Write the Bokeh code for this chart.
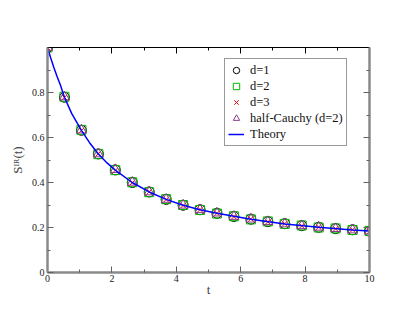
from bokeh.plotting import figure
from bokeh.models import LinearAxis, FixedTicker, Range1d, Legend, LegendItem
from bokeh.embed import file_html
from bokeh.resources import INLINE

# ---- data ----
t = [0.0, 0.526, 1.053, 1.579, 2.105, 2.632, 3.158, 3.684, 4.211, 4.737,
     5.263, 5.789, 6.316, 6.842, 7.368, 7.895, 8.421, 8.947, 9.474, 10.0]
d1 = [1.000, 0.779, 0.632, 0.527, 0.456, 0.400, 0.358, 0.325, 0.299, 0.279,
      0.263, 0.249, 0.237, 0.226, 0.217, 0.208, 0.201, 0.195, 0.190, 0.184]
d2 = [1.000, 0.781, 0.634, 0.526, 0.455, 0.401, 0.357, 0.326, 0.300, 0.278,
      0.262, 0.250, 0.236, 0.227, 0.216, 0.209, 0.200, 0.196, 0.189, 0.185]
d3 = [1.000, 0.778, 0.631, 0.528, 0.454, 0.399, 0.359, 0.324, 0.298, 0.280,
      0.263, 0.248, 0.238, 0.225, 0.217, 0.207, 0.202, 0.194, 0.190, 0.183]
hc = [1.000, 0.780, 0.633, 0.527, 0.457, 0.401, 0.358, 0.325, 0.299, 0.279,
      0.264, 0.249, 0.237, 0.226, 0.216, 0.208, 0.201, 0.195, 0.189, 0.184]
theory_t = [0.0, 0.1, 0.2, 0.3, 0.4, 0.526, 0.75, 1.053, 1.3, 1.579, 1.85, 2.105,
            2.632, 3.158, 3.684, 4.211, 4.737, 5.263, 6.316, 7.368, 8.421, 9.474, 10.0]
theory = [1.0, 0.953, 0.910, 0.870, 0.833, 0.779, 0.707, 0.632, 0.578, 0.527, 0.487, 0.455,
          0.400, 0.358, 0.325, 0.299, 0.279, 0.263, 0.237, 0.216, 0.201, 0.189, 0.184]

x_major = [0, 2, 4, 6, 8, 10]
x_minor = [1, 3, 5, 7, 9]
y_major = [0, 0.2, 0.4, 0.6, 0.8]
y_minor = [0.1, 0.3, 0.5, 0.7, 0.9]
legend_labels = ["d=1", "d=2", "d=3", "half-Cauchy (d=2)", "Theory"]
x_label = "t"
y_label = "S\u1d35\u1d3f(t)"

SERIF = "Liberation Serif"
GRAY = "#8a8a8a"
TICK = "#606060"

p = figure(width=407, height=313, x_range=Range1d(0, 10), y_range=Range1d(0, 1),
           output_backend="svg", toolbar_location=None,
           min_border_left=47, min_border_right=38, min_border_top=47, min_border_bottom=41)
p.xgrid.visible = False
p.ygrid.visible = False
p.outline_line_color = None
p.background_fill_color = "white"
p.border_fill_color = "white"


def style_axis(ax, major, minor, color, width, tick_color, labels=True):
    ax.ticker = FixedTicker(ticks=major, minor_ticks=minor)
    ax.axis_line_color = color
    ax.axis_line_width = width
    ax.major_tick_line_color = tick_color
    ax.minor_tick_line_color = tick_color
    ax.major_tick_in = 6
    ax.major_tick_out = 0
    ax.minor_tick_in = 3
    ax.minor_tick_out = 0
    ax.major_label_text_font = SERIF
    ax.major_label_text_color = "#222222"
    ax.major_label_text_font_size = "10px"
    ax.major_label_standoff = 3
    if not labels:
        ax.major_label_overrides = {v: "" for v in major}


xa = p.xaxis[0]
ya = p.yaxis[0]
style_axis(xa, x_major, x_minor, GRAY, 2.5, TICK)
style_axis(ya, y_major, y_minor, GRAY, 2.5, TICK)
xa.major_label_standoff = 2
xa.axis_label = x_label
xa.axis_label_text_font = SERIF
xa.axis_label_text_font_style = "normal"
xa.axis_label_text_font_size = "13px"
xa.axis_label_standoff = -3
ya.axis_label = y_label
ya.axis_label_text_font = SERIF
ya.axis_label_text_font_style = "normal"
ya.axis_label_text_font_size = "13px"
ya.axis_label_standoff = 4

top = LinearAxis()
style_axis(top, x_major, x_minor, "black", 1, "black", labels=False)
p.add_layout(top, "above")
right = LinearAxis()
style_axis(right, y_major, y_minor, GRAY, 2.5, TICK, labels=False)
p.add_layout(right, "right")

r1 = p.scatter(t, d1, marker="circle", size=10, fill_color=None, line_color="black", line_width=1)
r2 = p.scatter(t, d2, marker="square", size=9, fill_color=None, line_color="#00b400", line_width=1)
r3 = p.scatter(t, d3, marker="x", size=8, line_color="#ff0000", line_width=1)
r4 = p.scatter(t, hc, marker="triangle", size=10, fill_color=None, line_color="#8b3a8b", line_width=1)
r5 = p.line(theory_t, theory, line_color="#0000ff", line_width=1.5)

legend = Legend(items=[LegendItem(label=lab, renderers=[r]) for lab, r in
                       zip(legend_labels, [r1, r2, r3, r4, r5])],
                location=(177, 126))
legend.border_line_color = "#333333"
legend.border_line_width = 1
legend.background_fill_color = "white"
legend.background_fill_alpha = 1
legend.label_text_font = SERIF
legend.label_text_font_size = "12.5px"
legend.label_text_color = "#111111"
legend.padding = 3
legend.spacing = 0
legend.margin = 0
legend.glyph_width = 16
legend.glyph_height = 16
legend.label_height = 12
legend.label_standoff = 6
p.add_layout(legend)

open("out.html", "w").write(file_html(p, INLINE))
